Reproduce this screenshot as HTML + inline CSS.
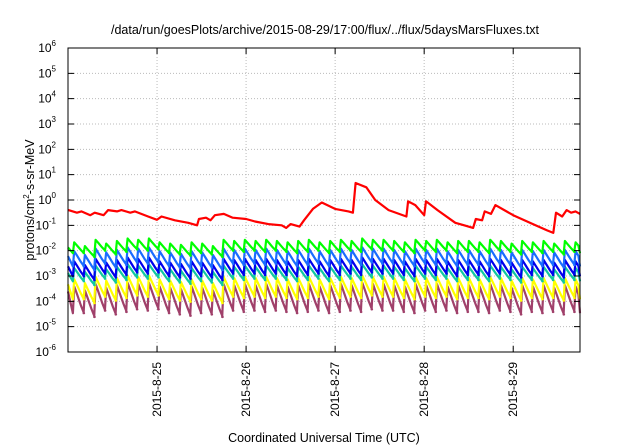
<!DOCTYPE html>
<html><head><meta charset="utf-8"><style>
body{margin:0;background:#fff;}
svg{display:block;font-family:"Liberation Sans",sans-serif;}
</style></head><body>
<svg id="chart" width="640" height="448">
<text x="325" y="34" text-anchor="middle" font-size="12.5">/data/run/goesPlots/archive/2015-08-29/17:00/flux/../flux/5daysMarsFluxes.txt</text>
<text transform="translate(34,200) rotate(-90)" text-anchor="middle" font-size="12.5">protons/cm<tspan font-size="8" dy="-5">2</tspan><tspan dy="5">-s-sr-MeV</tspan></text>
<text x="324" y="442" text-anchor="middle" font-size="12.5">Coordinated Universal Time (UTC)</text>
<g id="grid"></g><g id="series"></g><g id="axes"></g>
</svg>
<script>
const yDecades=[-6,-5,-4,-3,-2,-1,0,1,2,3,4,5,6];
const dayLabels=["2015-8-25","2015-8-26","2015-8-27","2015-8-28","2015-8-29"];
const dayTicks=[1,2,3,4,5];
const redT=[0,0.1,0.15,0.25,0.3,0.35,0.4,0.45,0.55,0.6,0.7,0.75,0.9,1.0,1.05,1.2,1.35,1.45,1.47,1.55,1.6,1.65,1.75,1.85,2.0,2.1,2.25,2.4,2.45,2.5,2.6,2.65,2.75,2.85,3.0,3.15,3.2,3.23,3.35,3.45,3.6,3.8,3.82,3.9,4.0,4.02,4.15,4.35,4.45,4.55,4.58,4.65,4.68,4.75,4.8,5.0,5.25,5.38,5.45,5.48,5.55,5.6,5.65,5.7,5.75];
const redLog=[-0.39,-0.5,-0.45,-0.6,-0.5,-0.55,-0.6,-0.4,-0.45,-0.4,-0.5,-0.45,-0.65,-0.78,-0.65,-0.8,-0.9,-1.0,-0.75,-0.7,-0.8,-0.6,-0.55,-0.7,-0.75,-0.85,-0.95,-1.0,-1.1,-0.95,-1.05,-0.8,-0.35,-0.1,-0.35,-0.45,-0.5,0.67,0.5,0.0,-0.4,-0.65,-0.05,-0.2,-0.6,-0.05,-0.4,-0.9,-1.0,-1.1,-0.75,-0.8,-0.45,-0.55,-0.2,-0.6,-1.0,-1.2,-1.3,-0.5,-0.65,-0.4,-0.5,-0.45,-0.55];
const seriesNames=["green","light-blue","blue","teal","yellow","purple"];
const seriesColors=["#00ff00","#1a6cff","#0000ee","#10c8a0","#ffff00","#a0406a"];
const peakLevel=[-1.62,-1.97,-2.37,-2.64,-3.08,-3.36];
const troughLevel=[-2.05,-2.57,-2.96,-3.16,-3.87,-4.42];
const cycleMod=[-0.05,-0.2,0.05,-0.1,0.0,0.1,0.05,0.1,-0.05,-0.1,-0.15,-0.05,-0.1,-0.2,0.05,0.0,0.05,0.0,0.05,0.0,-0.05,0.0,0.05,-0.05,0.0,0.05,0.0,0.1,0.05,0.05,0.0,-0.05,0.05,0.0,0.05,-0.05,0.0,0.0,-0.05,0.05,0.0,-0.1,0.0,-0.05,0.0,-0.1,0.0,-0.05];
const L=68,R=580,T=48,B=352,tMax=5.75;
const xs=t=>L+(R-L)*t/tMax;
const ys=lg=>B-(B-T)*(lg+6)/12;
const NS="http://www.w3.org/2000/svg";
function mk(tag,attrs,parent){const e=document.createElementNS(NS,tag);for(const k in attrs)e.setAttribute(k,attrs[k]);parent.appendChild(e);return e;}
const grid=document.getElementById('grid'),axes=document.getElementById('axes'),ser=document.getElementById('series');
yDecades.forEach(d=>{const y=ys(d);
 if(d>-6&&d<6){const g=mk('line',{x1:L,x2:R,y1:y,y2:y,stroke:'#bbb','stroke-dasharray':'1,2'},grid);}
 const tk=mk('path',{d:`M${L},${y}h6M${R},${y}h-6`,stroke:'#000'},axes);
 const tx=mk('text',{x:L-12,y:y+4,'text-anchor':'end','font-size':'12'},axes);
 tx.textContent='10';const sp=mk('tspan',{dy:-6,'font-size':'8'},tx);sp.textContent=String(d);
});
dayTicks.forEach((t,i)=>{const x=xs(t);
 const g=mk('line',{x1:x,x2:x,y1:T,y2:B,stroke:'#bbb','stroke-dasharray':'1,2'},grid);
 const tk=mk('path',{d:`M${x},${B}v-6M${x},${T}v6`,stroke:'#000'},axes);
 const tx=mk('text',{transform:`translate(${x+4},${B+10}) rotate(-90)`,'text-anchor':'end','font-size':'12'},axes);tx.textContent=dayLabels[i];
});
const frame=mk('rect',{x:L,y:T,width:R-L,height:B-T,fill:'none',stroke:'#000','stroke-width':1},axes);

const N=cycleMod.length,per=tMax/N;
for(let s=seriesNames.length-1;s>=0;s--){
 let pts=[];let prevTr=troughLevel[s]+cycleMod[0];
 pts.push([0,peakLevel[s]+cycleMod[0]-0.2]);
 for(let i=0;i<N;i++){const t0=i*per+per*0.5;const pk=peakLevel[s]+cycleMod[i];const tr=troughLevel[s]+cycleMod[i];const dr=pk-tr;
  pts.push([Math.max(0,t0-0.005),prevTr]);pts.push([t0+0.01,pk]);pts.push([t0+per*0.35,pk-dr*0.3]);pts.push([t0+per*0.7,pk-dr*0.7]);
  const tEnd=Math.min(tMax,t0+per);pts.push([tEnd,tr]);prevTr=tr;}
 pts=pts.filter(p=>p[0]<=tMax);
 const p=mk('polyline',{points:pts.map(q=>xs(q[0]).toFixed(1)+','+ys(q[1]).toFixed(1)).join(' '),fill:'none',stroke:seriesColors[s],'stroke-width':2.2,'stroke-linejoin':'round'},ser);
 
}
const rp=mk('polyline',{points:redT.map((t,i)=>xs(t).toFixed(1)+','+ys(redLog[i]).toFixed(1)).join(' '),fill:'none',stroke:'#ff0000','stroke-width':2.2,'stroke-linejoin':'round'},ser);

</script>
</body></html>
